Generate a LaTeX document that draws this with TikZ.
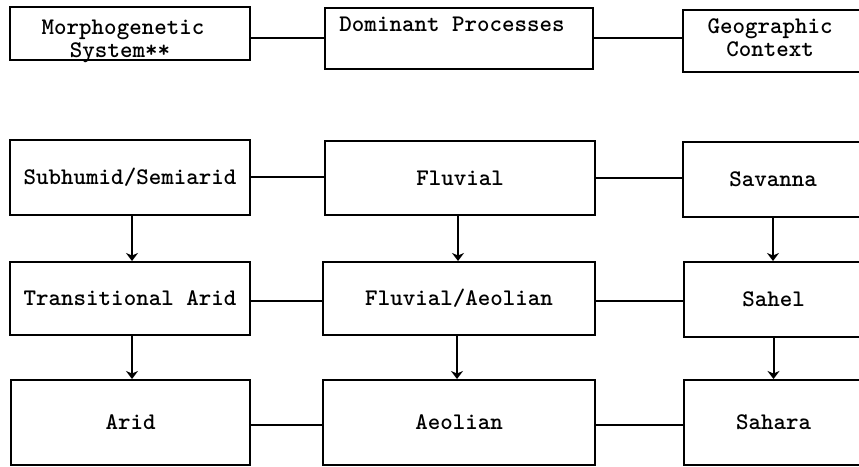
\documentclass[tikz,border=0pt]{standalone}
\usetikzlibrary{arrows.meta}
\newcommand\boxfont{\fontsize{23.9}{21}\selectfont\ttfamily\bfseries}
\begin{document}
\begin{tikzpicture}[x=1bp,y=-1bp,
  box/.style={draw, line width=2bp, inner sep=0pt, font=\boxfont},
  lbl/.style={inner sep=0pt, font=\boxfont, anchor=base},
  link/.style={line width=2bp},
  arr/.style={line width=2bp, -{Stealth[length=8bp,width=12bp,inset=2.5bp]}}]
\useasboundingbox (0,0) rectangle (859,467);
\clip (0,0) rectangle (859,467);
% row 1
\node[box, minimum width=240bp, minimum height=53bp] (m1) at (130,33.5) {};
\node[box, minimum width=268bp, minimum height=61bp] (d1) at (459,38.5) {};
\node[box, minimum width=180bp, minimum height=62bp] (g1) at (773,41) {};
\node[lbl] (tm1) at (123,35) {Morphogenetic};
\node[lbl] (tm2) at (120,58) {System**};
\node[lbl] (td) at (452,32) {Dominant Processes};
\node[lbl] (tg1) at (770,34) {Geographic};
\node[lbl] (tg2) at (770,57) {Context};
% row 2
\node[box, minimum width=240bp, minimum height=75bp] (c1) at (130,177.5) {Subhumid/Semiarid};
\node[box, minimum width=270bp, minimum height=74bp] (c2) at (460,178) {Fluvial};
\node[box, minimum width=180bp, minimum height=75bp] (c3) at (773,179.5) {Savanna};
% row 3
\node[box, minimum width=240bp, minimum height=73bp] (r1) at (130,298.5) {Transitional Arid};
\node[box, minimum width=272bp, minimum height=73bp] (r2) at (459,298.5) {Fluvial/Aeolian};
\node[box, minimum width=179bp, minimum height=75bp] (r3) at (773.5,299.5) {Sahel};
% row 4
\node[box, minimum width=239bp, minimum height=85bp] (b1) at (130.5,422.5) {Arid};
\node[box, minimum width=272bp, minimum height=85bp] (b2) at (459,422.5) {Aeolian};
\node[box, minimum width=179bp, minimum height=85bp] (b3) at (773.5,422.5) {Sahara};
% horizontal links
\draw[link] (d1.west -| m1.east) -- (d1.west);
\draw[link] (d1.east) -- (d1.east -| g1.west);
\draw[link] (c1.east) -- (c1.east -| c2.west);
\draw[link] (c2.east) -- (c2.east -| c3.west);
\draw[link] ([yshift=-3bp]r1.east) -- ([yshift=-3bp]r1.east -| r2.west);
\draw[link] ([yshift=-3bp]r2.east) -- ([yshift=-3bp]r2.east -| r3.west);
\draw[link] ([yshift=-2.5bp]b1.east) -- ([yshift=-2.5bp]b1.east -| b2.west);
\draw[link] ([yshift=-2.5bp]b2.east) -- ([yshift=-2.5bp]b2.east -| b3.west);
% arrows
\draw[arr] ([xshift=2bp]c1.south) -- ([xshift=2bp]c1.south |- r1.north);
\draw[arr] ([xshift=2bp]r1.south) -- ([xshift=2bp]r1.south |- b1.north);
\draw[arr] ([xshift=-2bp]c2.south) -- ([xshift=-2bp]c2.south |- r2.north);
\draw[arr] ([xshift=-2bp]r2.south) -- ([xshift=-2bp]r2.south |- b2.north);
\draw[arr] (c3.south) -- (c3.south |- r3.north);
\draw[arr] (r3.south) -- (r3.south |- b3.north);
\end{tikzpicture}
\end{document}
